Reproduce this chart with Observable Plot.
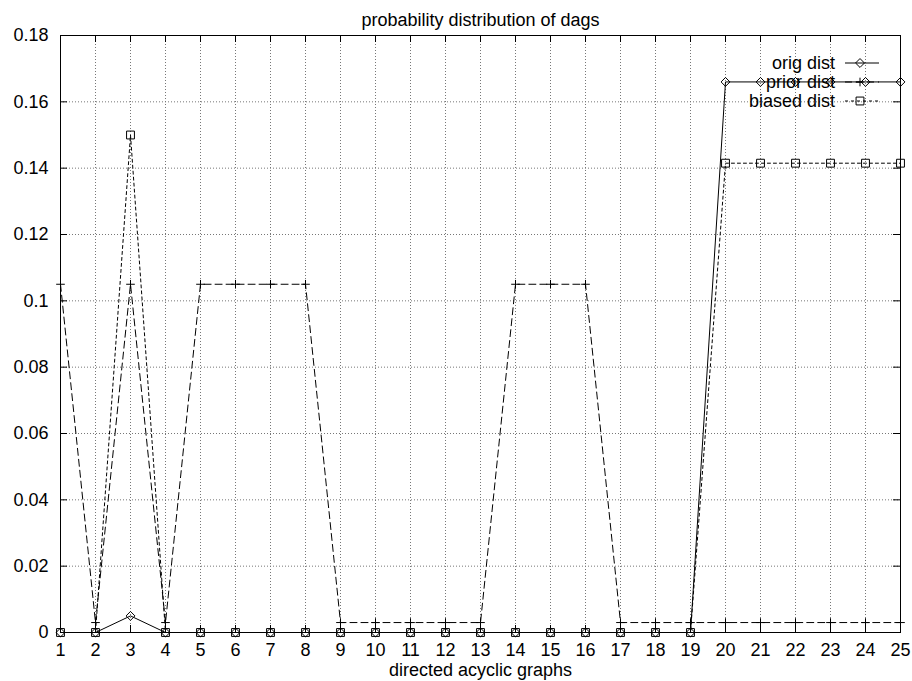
<!DOCTYPE html>
<html><head><meta charset="utf-8">
<script src="https://cdn.jsdelivr.net/npm/d3@7"></script>
<script src="https://cdn.jsdelivr.net/npm/@observablehq/plot@0.6"></script>
<style>body{margin:0;background:#fff}</style>
</head><body><div id="chart"></div>
<script>
// ---- data ----
const graphs = [1,2,3,4,5,6,7,8,9,10,11,12,13,14,15,16,17,18,19,20,21,22,23,24,25];
const origDist   = [0,0,0.005,0,0,0,0,0,0,0,0,0,0,0,0,0,0,0,0,0.166,0.166,0.166,0.166,0.166,0.166];
const priorDist  = [0.105,0.003,0.105,0.003,0.105,0.105,0.105,0.105,0.003,0.003,0.003,0.003,0.003,0.105,0.105,0.105,0.003,0.003,0.003,0.003,0.003,0.003,0.003,0.003,0.003];
const biasedDist = [0,0,0.15,0,0,0,0,0,0,0,0,0,0,0,0,0,0,0,0,0.1415,0.1415,0.1415,0.1415,0.1415,0.1415];
const seriesNames = ["orig dist","prior dist","biased dist"];
const yTicks = [0,0.02,0.04,0.06,0.08,0.1,0.12,0.14,0.16,0.18];
const yTickLabels = ["0","0.02","0.04","0.06","0.08","0.1","0.12","0.14","0.16","0.18"];
const titleText = "probability distribution of dags";
const xLabelText = "directed acyclic graphs";

// ---- layout ----
const W = 912, H = 681, mL = 60, mR = 12, mT = 35, mB = 49;
const pw = W - mL - mR, ph = H - mT - mB;
const tickLen = 7;

const rows = (vals) => graphs.map((g, i) => ({x: g, y: vals[i]}));
const orig = rows(origDist), prior = rows(priorDist), biased = rows(biasedDist);

const styles = [
  {data: orig, dash: null, symbol: "diamond2", r: 4},
  {data: prior, dash: "7,4", symbol: "plus", r: 2.9},
  {data: biased, dash: "3,3", symbol: "square2", r: 5}
];

const marks = [
  Plot.gridX(graphs, {stroke: "#777", strokeOpacity: 1, strokeDasharray: "1,2"}),
  Plot.gridY(yTicks, {stroke: "#777", strokeOpacity: 1, strokeDasharray: "1,2"}),
  Plot.tickX(graphs, {x: d => d, stroke: "black", insetTop: ph - tickLen}),
  Plot.tickX(graphs, {x: d => d, stroke: "black", insetBottom: ph - tickLen}),
  Plot.tickY(yTicks, {y: d => d, stroke: "black", insetRight: pw - tickLen}),
  Plot.tickY(yTicks, {y: d => d, stroke: "black", insetLeft: pw - tickLen}),
  Plot.axisX(graphs, {tickSize: 0, tickPadding: 11, tickFormat: d => String(d), fontSize: 18, label: null}),
  Plot.axisY(yTicks, {tickSize: 0, tickPadding: 12, tickFormat: (d, i) => yTickLabels[i], fontSize: 18, label: null}),
  Plot.frame({stroke: "black"}),
];
for (const s of styles) {
  marks.push(Plot.line(s.data, {x: "x", y: "y", stroke: "black", strokeWidth: 1, strokeDasharray: s.dash}));
}
for (const s of styles) {
  marks.push(Plot.dot(s.data, {x: "x", y: "y", symbol: () => s.symbol, r: s.r, stroke: "black", fill: "none", strokeWidth: 1}));
}
marks.push(Plot.text([titleText], {frameAnchor: "top", lineAnchor: "top", dy: -22, fontSize: 18, text: d => d}));
marks.push(Plot.text([xLabelText], {frameAnchor: "bottom", lineAnchor: "top", dy: 31, fontSize: 18, text: d => d}));

const chart = Plot.plot({
  width: W, height: H,
  marginLeft: mL, marginRight: mR, marginTop: mT, marginBottom: mB,
  style: {fontFamily: "'Liberation Sans', Arial, sans-serif", fontSize: "18px", background: "white"},
  x: {type: "linear", domain: [1, 25], axis: null},
  y: {type: "linear", domain: [0, 0.18], axis: null},
  symbol: {type: "identity"},
  marks
});
document.getElementById("chart").appendChild(chart);

// ---- legend (top right, gnuplot style) ----
const svg = d3.select(chart);
const leg = svg.append("g").attr("class", "legend");
const legendRows = [63, 82, 101];
const textRight = 835, lineX1 = 845, lineX2 = 879, markX = 860;
styles.forEach((s, i) => {
  const y = legendRows[i];
  leg.append("text").attr("x", textRight).attr("y", y).attr("dy", "0.35em")
    .attr("text-anchor", "end").attr("font-size", 18).attr("fill", "black").text(seriesNames[i]);
  leg.append("line").attr("x1", lineX1).attr("x2", lineX2).attr("y1", y).attr("y2", y)
    .attr("stroke", "black").attr("stroke-dasharray", s.dash);
  const sym = {diamond2: d3.symbolDiamond2, plus: d3.symbolPlus, square2: d3.symbolSquare2}[s.symbol];
  leg.append("path").attr("transform", `translate(${markX},${y})`)
    .attr("d", d3.symbol(sym, Math.PI * s.r * s.r)())
    .attr("fill", "none").attr("stroke", "black");
});
</script>
</body></html>
